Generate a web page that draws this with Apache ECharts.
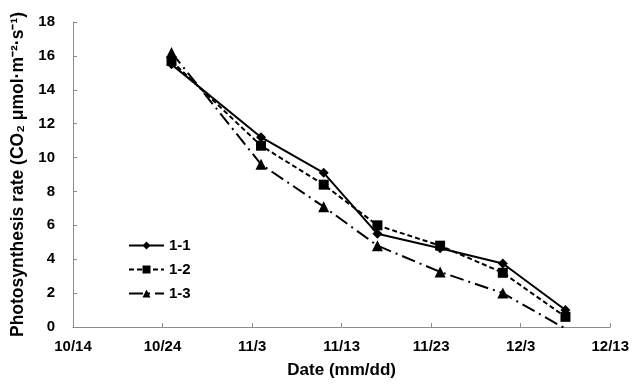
<!DOCTYPE html>
<html>
<head>
<meta charset="utf-8">
<script src="https://cdn.jsdelivr.net/npm/echarts@6/dist/echarts.min.js"></script>
<style>
  html, body { margin: 0; padding: 0; background: #fff; }
  #chart { width: 632px; height: 384px; }
</style>
</head>
<body>
<div id="chart"></div>
<script>
// measurement dates (mm/dd) and tick labels
const dates = ["10/25", "11/4", "11/11", "11/17", "11/24", "12/1", "12/8"];
const xTickLabels = ["10/14", "10/24", "11/3", "11/13", "11/23", "12/3", "12/13"];
const seriesNames = ["1-1", "1-2", "1-3"];

// photosynthesis rate values
const rate11 = [15.5, 11.2, 9.1, 5.5, 4.65, 3.75, 1.0];
const rate12 = [15.7, 10.7, 8.4, 6.0, 4.8, 3.2, 0.6];
const rate13 = [16.2, 9.6, 7.1, 4.8, 3.25, 2.0, -0.1];

// days since the first tick (10/14)
const startDay = new Date(2013, 9, 14);
const toDay = (s) => {
  const [m, d] = s.split("/").map(Number);
  return Math.round((new Date(2013, m - 1, d) - startDay) / 86400000);
};
const days = dates.map(toDay);
const pairs = (vals) => vals.map((v, i) => [days[i], v]);

const font = "'Liberation Sans', Arial, sans-serif";
const axisGray = "#8c8c8c";

const chart = echarts.init(document.getElementById("chart"));

const option = {
  animation: false,
  backgroundColor: "#fff",
  grid: { left: 73, right: 21, top: 22, bottom: 57 },
  legend: {
    orient: "vertical",
    left: 123,
    top: 233,
    itemWidth: 35,
    itemHeight: 10,
    itemGap: 9,
    textStyle: { fontFamily: font, fontSize: 15, fontWeight: "bold", color: "#000" },
    data: seriesNames,
  },
  xAxis: {
    type: "value",
    min: 0,
    max: 60,
    interval: 10,
    name: "Date (mm/dd)",
    nameLocation: "middle",
    nameGap: 35,
    nameTextStyle: { fontFamily: font, fontSize: 17, fontWeight: "bold", color: "#000" },
    axisLine: { lineStyle: { color: axisGray, width: 1 } },
    axisTick: { show: true, inside: true, length: 4, lineStyle: { color: axisGray } },
    axisLabel: {
      margin: 12,
      fontFamily: font,
      fontSize: 15,
      fontWeight: "bold",
      color: "#000",
      formatter: (v) => xTickLabels[Math.round(v / 10)],
    },
    splitLine: { show: false },
  },
  yAxis: {
    type: "value",
    min: 0,
    max: 18,
    interval: 2,
    name: "Photosynthesis rate (CO\u2082 \u03bcmol\u00b7m\u207b\u00b2\u00b7s\u207b\u00b9)",
    nameLocation: "middle",
    nameGap: 45,
    nameTextStyle: { fontFamily: font, fontSize: 17.5, fontWeight: "bold", color: "#000" },
    axisLine: { show: true, lineStyle: { color: axisGray, width: 1 } },
    axisTick: { show: true, inside: true, length: 4, lineStyle: { color: axisGray } },
    axisLabel: {
      margin: 18,
      fontFamily: font,
      fontSize: 15,
      fontWeight: "bold",
      color: "#000",
    },
    splitLine: { show: false },
  },
  series: [
    {
      name: seriesNames[0],
      type: "line",
      data: pairs(rate11),
      symbol: "diamond",
      symbolSize: 10,
      lineStyle: { color: "#000", width: 2, type: "solid" },
      itemStyle: { color: "#000" },
    },
    {
      name: seriesNames[1],
      type: "line",
      data: pairs(rate12),
      symbol: "rect",
      symbolSize: 10,
      lineStyle: { color: "#000", width: 2, type: [5, 3] },
      itemStyle: { color: "#000" },
    },
    {
      name: seriesNames[2],
      type: "line",
      data: pairs(rate13),
      symbol: "triangle",
      symbolSize: 11,
      lineStyle: { color: "#000", width: 2, type: [14, 5, 2, 5] },
      itemStyle: { color: "#000" },
    },
  ],
};

chart.setOption(option);
</script>
</body>
</html>
